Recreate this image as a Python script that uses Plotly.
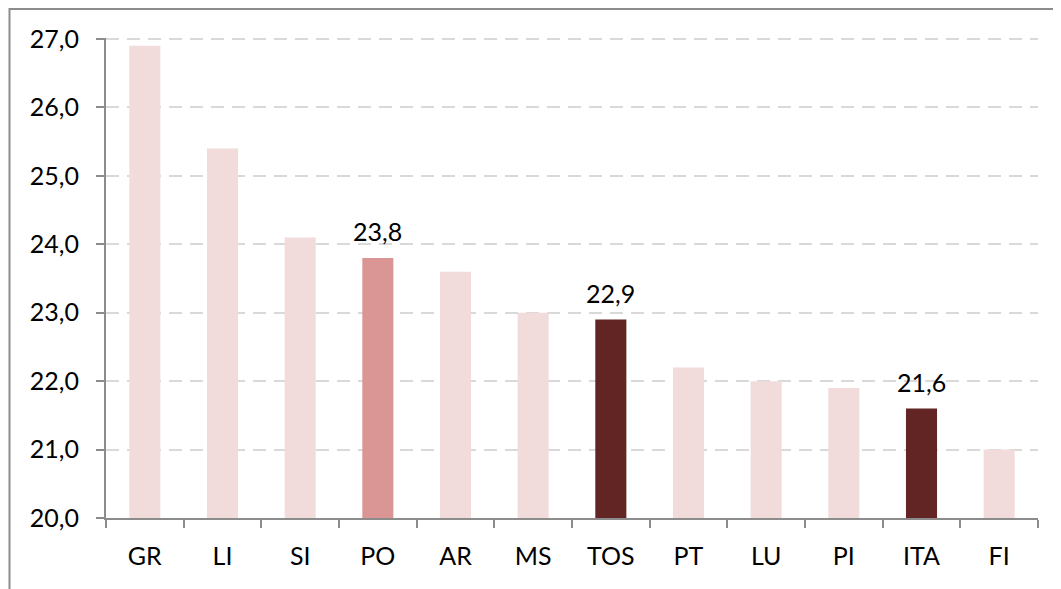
import plotly.graph_objects as go

categories = ["GR", "LI", "SI", "PO", "AR", "MS", "TOS", "PT", "LU", "PI", "ITA", "FI"]
values = [26.9, 25.4, 24.1, 23.8, 23.6, 23.0, 22.9, 22.2, 22.0, 21.9, 21.6, 21.0]
labeled = ["PO", "TOS", "ITA"]
y_ticks = [20, 21, 22, 23, 24, 25, 26, 27]

LIGHT = "#F2DCDB"
MID = "#DA9694"
DARK = "#632523"
color_map = {"PO": MID, "TOS": DARK, "ITA": DARK}
colors = [color_map.get(c, LIGHT) for c in categories]

FONT = "Lato, Open Sans, sans-serif"
FS = 25

# page has an 8px body margin; margins compensate so the plot area lands where the reference has it
ML, MR, MT, MB = 98, 31, 30, 79
W, H = 1061, 589
pw = W - ML - MR
ph = H - MT - MB

fig = go.Figure(go.Bar(
    x=categories, y=values,
    marker=dict(color=colors, line=dict(width=0)),
    hoverinfo="x+y",
))

annotations = [
    dict(x=c, y=v, xref="x", yref="y", text=f"{v:.1f}".replace(".", ","),
         showarrow=False, yanchor="bottom", yshift=10,
         font=dict(size=FS, family=FONT, color="#000000"))
    for c, v in zip(categories, values) if c in labeled
]

fig.update_layout(
    width=W, height=H,
    margin=dict(l=ML, r=MR, t=MT, b=MB, autoexpand=False),
    paper_bgcolor="white", plot_bgcolor="white",
    bargap=0.6,
    showlegend=False,
    separators=", ",
    font=dict(family=FONT, size=FS, color="#000000"),
    annotations=annotations,
    shapes=[dict(type="rect", xref="paper", yref="paper",
                 x0=(1.5 - ML) / pw, x1=1.3, y0=-0.4, y1=1 + (MT - 1) / ph,
                 line=dict(color="#8C8C8C", width=2), fillcolor="rgba(0,0,0,0)", layer="below")],
)
fig.update_xaxes(
    showline=True, linecolor="#8C8C8C", linewidth=2,
    ticks="outside", ticklen=8, tickcolor="#8C8C8C", tickwidth=2,
    tickson="boundaries", showgrid=False,
    tickfont=dict(size=FS, family=FONT), ticklabelstandoff=15,
)
fig.update_yaxes(
    range=[20, 27.015], tickvals=y_ticks,
    ticktext=[f"{t:.1f}".replace(".", ",") for t in y_ticks],
    showline=True, linecolor="#8C8C8C", linewidth=2,
    ticks="outside", ticklen=8, tickcolor="#8C8C8C", tickwidth=2,
    showgrid=True, gridcolor="#D9D9D9", gridwidth=2, griddash="13px,8px",
    tickfont=dict(size=FS, family=FONT), zeroline=False, ticklabelstandoff=12,
)

fig.write_html("out.html")
